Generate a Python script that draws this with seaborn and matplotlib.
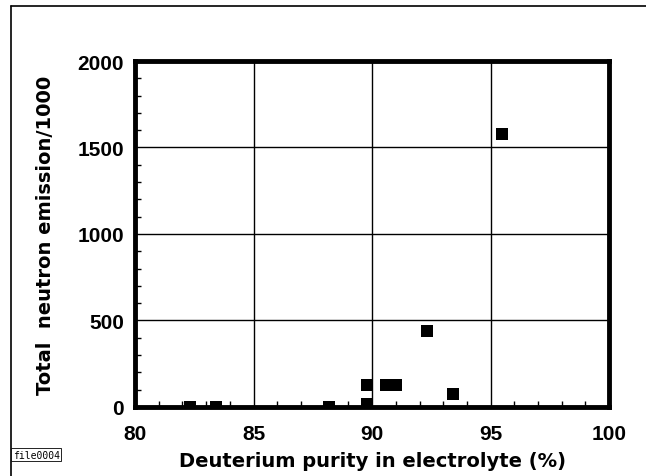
import matplotlib
matplotlib.use("Agg")
import matplotlib.pyplot as plt
import seaborn as sns
import pandas as pd
from matplotlib.ticker import MultipleLocator
from matplotlib.lines import Line2D

# values
purity = [82.3, 83.4, 88.2, 89.8, 89.8, 90.6, 91.0, 92.3, 93.4, 95.5]
neutrons = [0, 0, 0, 15, 125, 125, 125, 440, 75, 1575]
x_ticks = [80, 85, 90, 95, 100]
y_ticks = [0, 500, 1000, 1500, 2000]

df = pd.DataFrame({"purity": purity, "neutrons": neutrons})

sns.set_style("white")
plt.rcParams["font.family"] = ["Liberation Sans", "DejaVu Sans"]
plt.rcParams["text.color"] = "black"
plt.rcParams["axes.labelcolor"] = "black"
plt.rcParams["xtick.color"] = "black"
plt.rcParams["ytick.color"] = "black"

fig = plt.figure(figsize=(6.46, 4.77), dpi=100)
ax = fig.add_axes([0.209, 0.145, 0.734, 0.725])

sns.scatterplot(data=df, x="purity", y="neutrons", marker="s", s=80,
                color="black", edgecolor="black", linewidth=0, ax=ax, zorder=3)

ax.set_xlim(80, 100)
ax.set_ylim(0, 2000)
ax.set_xticks(x_ticks)
ax.set_yticks(y_ticks)
ax.xaxis.set_minor_locator(MultipleLocator(1))
ax.yaxis.set_minor_locator(MultipleLocator(100))
ax.grid(True, which="major", color="black", linewidth=1.0)
ax.tick_params(which="major", length=0, labelsize=15, labelcolor="black")
ax.tick_params(axis="x", which="major", pad=12)
ax.tick_params(axis="y", which="major", pad=8)
ax.tick_params(which="minor", direction="in", length=4.5, width=1.0, color="black",
               bottom=True, left=True, top=False, right=False)
for lab in ax.get_xticklabels() + ax.get_yticklabels():
    lab.set_fontweight("bold")
for sp in ax.spines.values():
    sp.set_visible(True)
    sp.set_color("black")
    sp.set_linewidth(3.5)

ax.set_xlabel("Deuterium purity in electrolyte (%)", fontsize=14, fontweight="bold",
              family="DejaVu Sans", color="black", labelpad=6)
ax.set_ylabel("Total  neutron emission/1000", fontsize=14, fontweight="bold",
              family="DejaVu Sans", color="black", labelpad=16)

# page frame lines (left and top)
fig.add_artist(Line2D([0.017, 0.017], [0, 0.985], transform=fig.transFigure, color="black", lw=1.2))
fig.add_artist(Line2D([0.017, 1.0], [0.985, 0.985], transform=fig.transFigure, color="black", lw=1.2))

fig.text(0.02, 0.038, "file0004", fontsize=7, family="DejaVu Sans Mono", color="black",
         bbox=dict(boxstyle="square,pad=0.15", fc="white", ec="black", lw=0.6))

fig.savefig("out.png", dpi=100)
